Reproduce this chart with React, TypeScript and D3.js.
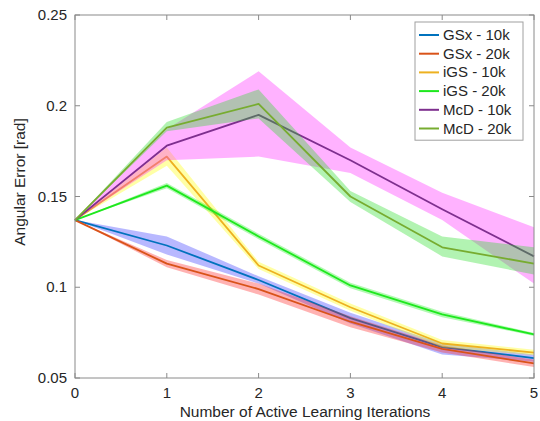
import React from "react";
import * as d3 from "d3";

const iterations = [0, 1, 2, 3, 4, 5];
const xTicks = [0, 1, 2, 3, 4, 5];
const yTicks = [0.05, 0.1, 0.15, 0.2, 0.25];
const yTickLabels = ["0.05", "0.1", "0.15", "0.2", "0.25"];

const seriesNames = ["GSx - 10k", "GSx - 20k", "iGS - 10k", "iGS - 20k", "McD - 10k", "McD - 20k"];
const lineColors = ["#0072BD", "#D95319", "#EDB120", "#1EE81E", "#7E2F8E", "#77AC30"];
const bandColors = ["#3333ff", "#ff2222", "#ffff00", "#22ee22", "#ff22ff", "#22dd22"];

const gsx10Mean = [0.137, 0.123, 0.104, 0.083, 0.067, 0.061];
const gsx10Low = [0.137, 0.118, 0.102, 0.08, 0.063, 0.059];
const gsx10High = [0.137, 0.128, 0.106, 0.086, 0.069, 0.063];

const gsx20Mean = [0.137, 0.113, 0.099, 0.081, 0.066, 0.058];
const gsx20Low = [0.137, 0.111, 0.096, 0.078, 0.064, 0.056];
const gsx20High = [0.137, 0.115, 0.102, 0.084, 0.068, 0.06];

const igs10Mean = [0.137, 0.172, 0.112, 0.089, 0.069, 0.064];
const igs10Low = [0.137, 0.167, 0.11, 0.087, 0.067, 0.0625];
const igs10High = [0.137, 0.177, 0.114, 0.091, 0.071, 0.0655];

const igs20Mean = [0.137, 0.156, 0.128, 0.101, 0.085, 0.074];
const igs20Low = [0.137, 0.1545, 0.1265, 0.0995, 0.0835, 0.0732];
const igs20High = [0.137, 0.1575, 0.1295, 0.1025, 0.0865, 0.0748];

const mcd10Mean = [0.137, 0.178, 0.195, 0.17, 0.143, 0.117];
const mcd10Low = [0.137, 0.17, 0.172, 0.163, 0.137, 0.102];
const mcd10High = [0.137, 0.187, 0.219, 0.177, 0.152, 0.133];

const mcd20Mean = [0.137, 0.188, 0.201, 0.15, 0.122, 0.113];
const mcd20Low = [0.137, 0.186, 0.193, 0.147, 0.117, 0.107];
const mcd20High = [0.137, 0.191, 0.209, 0.153, 0.128, 0.122];

const means = [gsx10Mean, gsx20Mean, igs10Mean, igs20Mean, mcd10Mean, mcd20Mean];
const lows = [gsx10Low, gsx20Low, igs10Low, igs20Low, mcd10Low, mcd20Low];
const highs = [gsx10High, gsx20High, igs10High, igs20High, mcd10High, mcd20High];

const W = 540;
const H = 421;
const left = 75;
const right = 534;
const top = 15;
const bottom = 378;
const FONT = "'Liberation Sans', Arial, Helvetica, sans-serif";

export default function App() {
  const x = d3.scaleLinear().domain([0, 5]).range([left, right]);
  const y = d3.scaleLinear().domain([0.05, 0.25]).range([bottom, top]);

  const line = d3
    .line<number>()
    .x((_, i) => x(iterations[i]))
    .y((d) => y(d));

  const area = (lo: number[], hi: number[]) =>
    d3
      .area<number>()
      .x((_, i) => x(iterations[i]))
      .y0((_, i) => y(lo[i]))
      .y1((_, i) => y(hi[i]))(lo) || "";

  const axisColor = "#8a8a8a";
  const tickLen = 5;

  const legX = 415;
  const legY = 22;
  const legW = 108;
  const legRow = 18.7;
  const legH = legRow * seriesNames.length + 6;

  return (
    <svg
      width={W}
      height={H}
      style={{ position: "absolute", left: 0, top: 0, background: "#fff" }}
      fontFamily={FONT}
    >
      <rect x={0} y={0} width={W} height={H} fill="#fff" />
      {means.map((m, s) => (
        <g key={seriesNames[s]}>
          <path d={area(lows[s], highs[s])} fill={bandColors[s]} fillOpacity={0.35} stroke="none" />
          <path d={line(m) || ""} fill="none" stroke={lineColors[s]} strokeWidth={1.8} strokeLinejoin="round" />
        </g>
      ))}

      {/* box */}
      <rect x={left} y={top} width={right - left} height={bottom - top} fill="none" stroke={axisColor} strokeWidth={1} />

      {xTicks.map((t) => (
        <g key={"x" + t}>
          <line x1={x(t)} x2={x(t)} y1={bottom} y2={bottom - tickLen} stroke={axisColor} />
          <line x1={x(t)} x2={x(t)} y1={top} y2={top + tickLen} stroke={axisColor} />
          <text x={x(t)} y={398} fontSize={15} textAnchor="middle" fill="#262626">
            {t}
          </text>
        </g>
      ))}
      {yTicks.map((t, i) => (
        <g key={"y" + t}>
          <line x1={left} x2={left + tickLen} y1={y(t)} y2={y(t)} stroke={axisColor} />
          <line x1={right} x2={right - tickLen} y1={y(t)} y2={y(t)} stroke={axisColor} />
          <text x={67} y={y(t) + 5} fontSize={15} textAnchor="end" fill="#262626">
            {yTickLabels[i]}
          </text>
        </g>
      ))}

      <text x={305} y={417} fontSize={15.5} textAnchor="middle" fill="#262626">
        Number of Active Learning Iterations
      </text>
      <text
        transform={`translate(25, 182) rotate(-90)`}
        fontSize={15.5}
        textAnchor="middle"
        fill="#262626"
      >
        Angular Error [rad]
      </text>

      {/* legend */}
      <rect x={legX} y={legY} width={legW} height={legH} fill="#fff" stroke="#a0a0a0" strokeWidth={1} />
      {seriesNames.map((n, i) => {
        const cy = legY + 13 + i * legRow;
        return (
          <g key={"l" + n}>
            <line x1={legX + 4} x2={legX + 24} y1={cy} y2={cy} stroke={lineColors[i]} strokeWidth={2} />
            <text x={legX + 28} y={cy + 5} fontSize={15} fill="#262626">
              {n}
            </text>
          </g>
        );
      })}
    </svg>
  );
}
